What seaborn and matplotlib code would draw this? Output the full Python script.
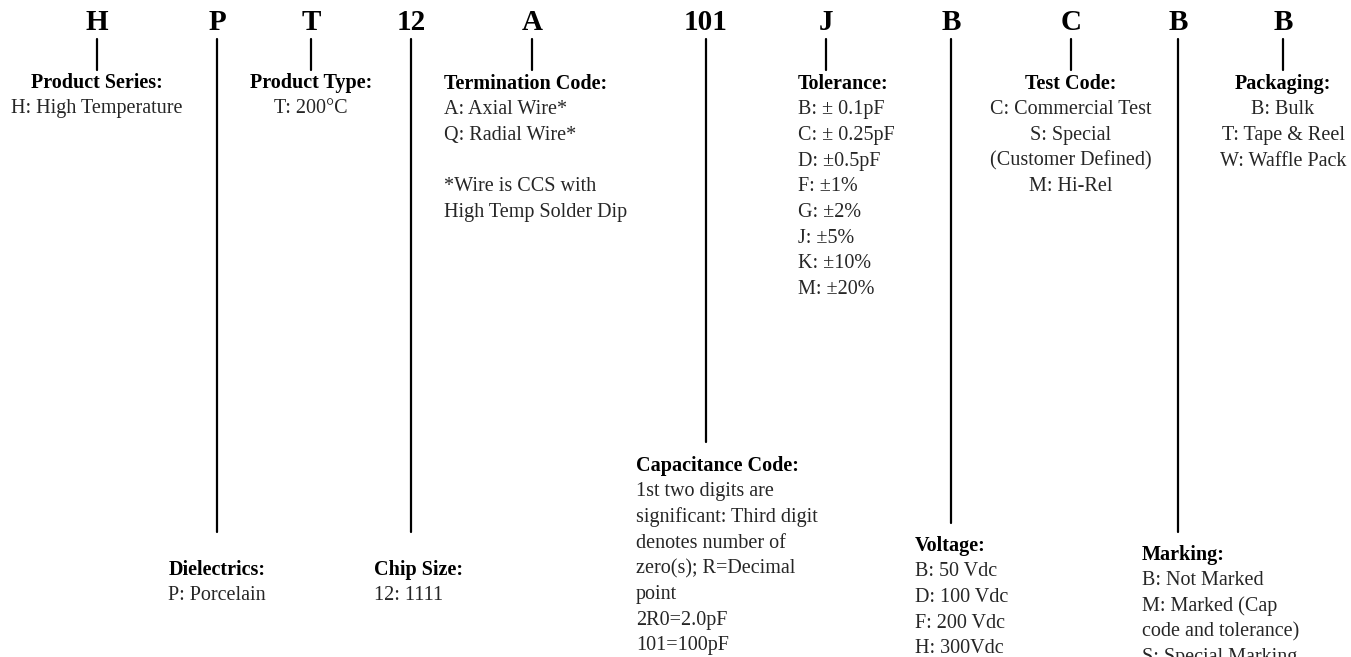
import matplotlib
matplotlib.use("Agg")
import matplotlib.pyplot as plt
import seaborn as sns
import pandas as pd

# ---- data ----
codes = ["H", "P", "T", "12", "A", "101", "J", "B", "C", "B", "B"]
headings = ["Product Series:", "Dielectrics:", "Product Type:", "Chip Size:",
            "Termination Code:", "Capacitance Code:", "Tolerance:", "Voltage:",
            "Test Code:", "Marking:", "Packaging:"]
items_series = ["H: High Temperature"]
items_dielectric = ["P: Porcelain"]
items_type = ["T: 200°C"]
items_chip = ["12: 1111"]
items_term = ["A: Axial Wire*", "Q: Radial Wire*", "", "*Wire is CCS with", "High Temp Solder Dip"]
items_cap = ["1st two digits are", "significant: Third digit", "denotes number of",
             "zero(s); R=Decimal", "point", "2R0=2.0pF", "101=100pF"]
items_tol = ["B: ± 0.1pF", "C: ± 0.25pF", "D: ±0.5pF", "F: ±1%", "G: ±2%",
             "J: ±5%", "K: ±10%", "M: ±20%"]
items_volt = ["B: 50 Vdc", "D: 100 Vdc", "F: 200 Vdc", "H: 300Vdc"]
items_test = ["C: Commercial Test", "S: Special", "(Customer Defined)", "M: Hi-Rel"]
items_mark = ["B: Not Marked", "M: Marked (Cap", "code and tolerance)", "S: Special Marking"]
items_pack = ["B: Bulk", "T: Tape & Reel", "W: Waffle Pack"]
items = [items_series, items_dielectric, items_type, items_chip, items_term, items_cap,
         items_tol, items_volt, items_test, items_mark, items_pack]

# ---- layout (pixels) ----
code_x = [97, 217, 311, 411, 532, 706, 826, 951, 1071, 1178, 1283]
line_bottom = [70, 532, 70, 532, 70, 442, 70, 523, 70, 532, 70]
block_x = [97, 217, 311, 374, 444, 636, 798, 915, 1071, 1142, 1283]
block_ha = ["center", "center", "center", "left", "left", "left", "left", "left",
            "center", "left", "center"]
block_y = [83, 570, 83, 570, 84, 466, 84, 546, 84, 555, 84]
line_gap = 25.7

W, H = 1351, 657
sns.set_theme(style="white")
plt.rcParams["font.family"] = ["Liberation Serif", "DejaVu Serif"]

fig = plt.figure(figsize=(W / 100, H / 100), dpi=100)
ax = fig.add_axes([0, 0, 1, 1])

rows = []
for i, (x, yb) in enumerate(zip(code_x, line_bottom)):
    rows.append({"x": x, "y": 39, "seg": i})
    rows.append({"x": x, "y": yb, "seg": i})
df = pd.DataFrame(rows)
sns.lineplot(data=df, x="x", y="y", units="seg", estimator=None, color="black",
             linewidth=1.6, ax=ax, legend=False, sort=False)
ax.set_xlim(0, W)
ax.set_ylim(H, 0)
ax.axis("off")

for c, x in zip(codes, code_x):
    ax.text(x, 22, c, ha="center", va="center", fontsize=21, fontweight="bold", color="black")

for head, its, x, ha, y in zip(headings, items, block_x, block_ha, block_y):
    ax.text(x, y, head, ha=ha, va="center", fontsize=14.5, fontweight="bold", color="black")
    for k, t in enumerate(its):
        if t:
            ax.text(x, y + line_gap * (k + 1), t, ha=ha, va="center", fontsize=14.5,
                    color="#262626")

fig.savefig("out.png", dpi=100)
